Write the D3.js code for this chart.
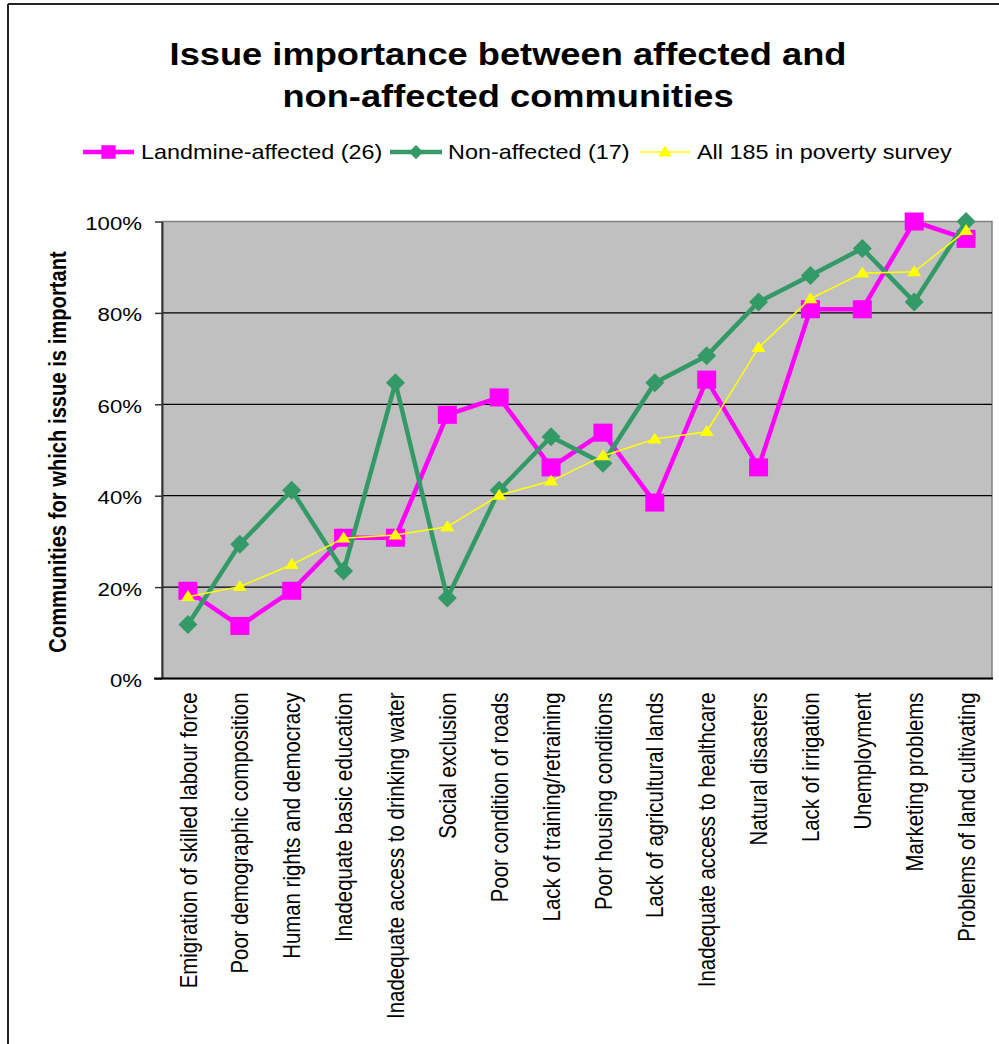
<!DOCTYPE html>
<html>
<head>
<meta charset="utf-8">
<script src="https://cdn.jsdelivr.net/npm/d3@7"></script>
<style>
  html, body { margin: 0; padding: 0; background: #fff; }
  svg { display: block; font-family: Arial, "Liberation Sans", sans-serif; }
</style>
</head>
<body>
<svg id="chart" width="999" height="1044"></svg>
<script>
// Issues raised in the community survey, ordered by overall importance
const categories = [
  "Emigration of skilled labour force",
  "Poor demographic composition",
  "Human rights and democracy",
  "Inadequate basic education",
  "Inadequate access to drinking water",
  "Social exclusion",
  "Poor condition of roads",
  "Lack of training/retraining",
  "Poor housing conditions",
  "Lack of agricultural lands",
  "Inadequate access to healthcare",
  "Natural disasters",
  "Lack of irrigation",
  "Unemployment",
  "Marketing problems",
  "Problems of land cultivating"
];

// Share of communities for which each issue is important
const landmineAffected = [0.192, 0.115, 0.192, 0.308, 0.308, 0.577, 0.615, 0.462,
                          0.538, 0.385, 0.654, 0.462, 0.808, 0.808, 1.000, 0.962];
const nonAffected      = [0.118, 0.294, 0.412, 0.235, 0.647, 0.176, 0.412, 0.529,
                          0.471, 0.647, 0.706, 0.824, 0.882, 0.941, 0.824, 1.000];
const allSurveyed      = [0.179, 0.201, 0.249, 0.307, 0.314, 0.332, 0.401, 0.432,
                          0.487, 0.524, 0.540, 0.724, 0.831, 0.887, 0.890, 0.980];

const yTicks = [0, 0.2, 0.4, 0.6, 0.8, 1.0];

const seriesNames = ["Landmine-affected (26)", "Non-affected (17)", "All 185 in poverty survey"];

const titleLines = ["Issue importance between affected and", "non-affected communities"];
const yTitle = "Communities for which issue is important";

const svg = d3.select("#chart");

const plot = { left: 162, right: 992, top: 221.5, bottom: 678.5 };
const wide = 1.17; // horizontal glyph stretch used for all labels

const x = d3.scaleBand().domain(categories).range([plot.left, plot.right]).padding(0);
const cx = d => x(d) + x.bandwidth() / 2;
const y = d3.scaleLinear().domain([0, 1]).range([plot.bottom, plot.top]);

// Outer frame (top and left edges)
svg.append("line").attr("x1", 8).attr("x2", 999).attr("y1", 4).attr("y2", 4)
  .attr("stroke", "#222").attr("stroke-width", 2);
svg.append("line").attr("x1", 8).attr("x2", 8).attr("y1", 4).attr("y2", 1044)
  .attr("stroke", "#222").attr("stroke-width", 2);

// Title
svg.append("g").selectAll("text").data(titleLines).join("text")
  .attr("transform", (d, i) => `translate(508,${65 + i * 42}) scale(${wide},1)`)
  .attr("text-anchor", "middle")
  .attr("font-weight", "bold")
  .attr("font-size", 31)
  .attr("fill", "#000")
  .text(d => d);

// Plot background
svg.append("rect")
  .attr("x", plot.left).attr("y", plot.top)
  .attr("width", plot.right - plot.left).attr("height", plot.bottom - plot.top)
  .attr("fill", "#c0c0c0").attr("stroke", "#808080").attr("stroke-width", 1.5);

// Horizontal gridlines
svg.append("g").selectAll("line").data(yTicks.filter(t => t > 0 && t < 1)).join("line")
  .attr("x1", plot.left).attr("x2", plot.right)
  .attr("y1", d => y(d)).attr("y2", d => y(d))
  .attr("stroke", "#000").attr("stroke-width", 1.2);

// Y axis
const yAxis = svg.append("g")
  .attr("transform", `translate(${plot.left},0)`)
  .call(d3.axisLeft(y).tickValues(yTicks).tickFormat(d3.format(".0%")).tickSize(7).tickSizeOuter(0));
yAxis.select(".domain").attr("stroke", "#333").attr("stroke-width", 2);
yAxis.selectAll(".tick line").attr("stroke", "#333").attr("stroke-width", 1.5);
yAxis.selectAll(".tick text")
  .attr("font-family", "Arial, 'Liberation Sans', sans-serif")
  .attr("font-size", 19).attr("fill", "#000")
  .attr("x", null).attr("dy", null)
  .attr("text-anchor", "end")
  .attr("transform", `translate(-20,8) scale(${wide},1)`);

// X axis (baseline and rotated category labels)
const xAxis = svg.append("g")
  .attr("transform", `translate(0,${plot.bottom})`)
  .call(d3.axisBottom(x).tickSize(0).tickSizeOuter(0));
xAxis.select(".domain")
  .attr("d", `M${plot.left - 8},0H${plot.right + 1}`)
  .attr("stroke", "#000").attr("stroke-width", 2);
xAxis.selectAll(".tick text")
  .attr("font-family", "Arial, 'Liberation Sans', sans-serif")
  .attr("font-size", 20.4).attr("fill", "#000")
  .attr("y", null).attr("dy", "0.36em")
  .attr("text-anchor", "end")
  .attr("transform", `translate(0,14) scale(${wide},1) rotate(-90)`);

// Y axis title
svg.append("text")
  .attr("transform", `translate(57,452) scale(${wide},1) rotate(-90)`)
  .attr("text-anchor", "middle")
  .attr("dy", "0.36em")
  .attr("font-weight", "bold")
  .attr("font-size", 20.2)
  .attr("fill", "#000")
  .text(yTitle);

// Series lines and markers
const series = [
  { name: seriesNames[0], values: landmineAffected, color: "#ff00ff", width: 4.5, marker: "square" },
  { name: seriesNames[1], values: nonAffected, color: "#339966", width: 4.5, marker: "diamond" },
  { name: seriesNames[2], values: allSurveyed, color: "#ffff00", width: 1.5, marker: "triangle" }
];

function drawMarker(g, type, color, px, py, scale) {
  const s = scale || 1;
  if (type === "square") {
    const h = 9.5 * s;
    g.append("rect").attr("x", px - h).attr("y", py - h * 0.95).attr("width", 2 * h).attr("height", 2 * h * 0.95)
      .attr("fill", color);
  } else if (type === "diamond") {
    const h = 9.5 * s;
    g.append("path").attr("d", `M${px},${py - h}L${px + h},${py}L${px},${py + h}L${px - h},${py}Z`)
      .attr("fill", color);
  } else {
    const w = 7 * s, hgt = 11 * s;
    g.append("path").attr("d", `M${px},${py - hgt * 0.6}L${px + w},${py + hgt * 0.4}L${px - w},${py + hgt * 0.4}Z`)
      .attr("fill", color);
  }
}

const line = d3.line().x((d, i) => cx(categories[i])).y(d => y(d));

series.forEach(s => {
  const g = svg.append("g");
  g.append("path").datum(s.values)
    .attr("d", line)
    .attr("fill", "none")
    .attr("stroke", s.color)
    .attr("stroke-width", s.width)
    .attr("stroke-linejoin", "miter");
  s.values.forEach((v, i) => drawMarker(g, s.marker, s.color, cx(categories[i]), y(v)));
});

// Legend
const legendItems = [
  { s: series[0], x0: 83, x1: 134, tx: 141 },
  { s: series[1], x0: 390, x1: 442, tx: 448 },
  { s: series[2], x0: 640, x1: 690, tx: 697 }
];
const legendY = 152;
legendItems.forEach(it => {
  const g = svg.append("g");
  g.append("line").attr("x1", it.x0).attr("x2", it.x1).attr("y1", legendY).attr("y2", legendY)
    .attr("stroke", it.s.color).attr("stroke-width", it.s.width);
  drawMarker(g, it.s.marker, it.s.color, (it.x0 + it.x1) / 2, legendY, it.s.marker === "triangle" ? 1 : 0.75);
  g.append("text")
    .attr("transform", `translate(${it.tx},${legendY + 7}) scale(${wide},1)`)
    .attr("font-size", 20).attr("fill", "#000")
    .text(it.s.name);
});
</script>
</body>
</html>
